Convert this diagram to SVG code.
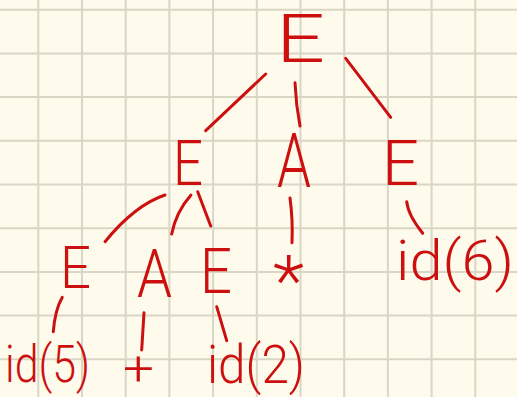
<svg xmlns="http://www.w3.org/2000/svg" width="517" height="397" viewBox="0 0 517 397">
<defs>
<style>
.bg{fill:#fefbec}
.grid line{stroke:#d9d6c6;stroke-width:2}
.ink{fill:#cc1010;font-family:Roboto,"Liberation Sans",sans-serif;font-weight:300;text-anchor:middle}
.edges path{stroke:#cc1010;stroke-width:3;fill:none;stroke-linecap:round}
</style>
</defs>
<rect class="bg" x="0" y="0" width="517" height="397"/>
<g class="grid">
<line x1="38.3" y1="0" x2="38.3" y2="397"/>
<line x1="82" y1="0" x2="82" y2="397"/>
<line x1="125.7" y1="0" x2="125.7" y2="397"/>
<line x1="169.4" y1="0" x2="169.4" y2="397"/>
<line x1="213.1" y1="0" x2="213.1" y2="397"/>
<line x1="256.8" y1="0" x2="256.8" y2="397"/>
<line x1="300.5" y1="0" x2="300.5" y2="397"/>
<line x1="344.2" y1="0" x2="344.2" y2="397"/>
<line x1="387.9" y1="0" x2="387.9" y2="397"/>
<line x1="431.6" y1="0" x2="431.6" y2="397"/>
<line x1="475.3" y1="0" x2="475.3" y2="397"/>
<line x1="0" y1="9.7" x2="517" y2="9.7"/>
<line x1="0" y1="53.4" x2="517" y2="53.4"/>
<line x1="0" y1="97.1" x2="517" y2="97.1"/>
<line x1="0" y1="140.8" x2="517" y2="140.8"/>
<line x1="0" y1="184.5" x2="517" y2="184.5"/>
<line x1="0" y1="228.2" x2="517" y2="228.2"/>
<line x1="0" y1="271.9" x2="517" y2="271.9"/>
<line x1="0" y1="315.6" x2="517" y2="315.6"/>
<line x1="0" y1="359.3" x2="517" y2="359.3"/>
</g>
<g class="edges">
<path d="M265.7 74 L205.7 130.7"/>
<path d="M295 82.7 Q296 105 300 126"/>
<path d="M345.7 58.3 L390.7 117.3"/>
<path d="M165 195 Q135 205 105 241.7"/>
<path d="M191 195 Q176 212 171.7 234"/>
<path d="M197.7 191.7 L210.7 226"/>
<path d="M290 198 Q293 220 292 242.7"/>
<path d="M406.7 201.7 Q408 215 422.7 233.3"/>
<path d="M62.3 297.3 Q55 310 53.3 331.7"/>
<path d="M144 312.7 L141.7 350"/>
<path d="M216.7 306.7 L226.7 340.7"/>
</g>
<g id="n-root"><text class="ink" x="300.5" y="62" font-size="66" textLength="49" lengthAdjust="spacingAndGlyphs">E</text></g>
<g id="n-E1"><text class="ink" x="188" y="185" font-size="63" textLength="30" lengthAdjust="spacingAndGlyphs">E</text></g>
<g id="n-A1"><text class="ink" x="294" y="187" font-size="76" textLength="34" lengthAdjust="spacingAndGlyphs">A</text></g>
<g id="n-E2"><text class="ink" x="400.5" y="185" font-size="63" textLength="37" lengthAdjust="spacingAndGlyphs">E</text></g>
<g id="n-E3"><text class="ink" x="75.5" y="288" font-size="60" textLength="31" lengthAdjust="spacingAndGlyphs">E</text></g>
<g id="n-A2"><text class="ink" x="154.5" y="297" font-size="66" textLength="35" lengthAdjust="spacingAndGlyphs">A</text></g>
<g id="n-E4"><text class="ink" x="216" y="293" font-size="63" textLength="32" lengthAdjust="spacingAndGlyphs">E</text></g>
<g id="n-star"><text class="ink" x="288.5" y="305" font-size="70" textLength="31" lengthAdjust="spacingAndGlyphs">*</text></g>
<g id="n-id6"><text class="ink" x="455" y="280" font-size="56" textLength="118" lengthAdjust="spacingAndGlyphs">id(6)</text></g>
<g id="n-id5"><text class="ink" x="47.5" y="382" font-size="52" textLength="85" lengthAdjust="spacingAndGlyphs">id(5)</text></g>
<g id="n-plus"><text class="ink" x="138.5" y="385" font-size="48" textLength="31" lengthAdjust="spacingAndGlyphs">+</text></g>
<g id="n-id2"><text class="ink" x="256" y="383" font-size="54" textLength="98" lengthAdjust="spacingAndGlyphs">id(2)</text></g>
</svg>
